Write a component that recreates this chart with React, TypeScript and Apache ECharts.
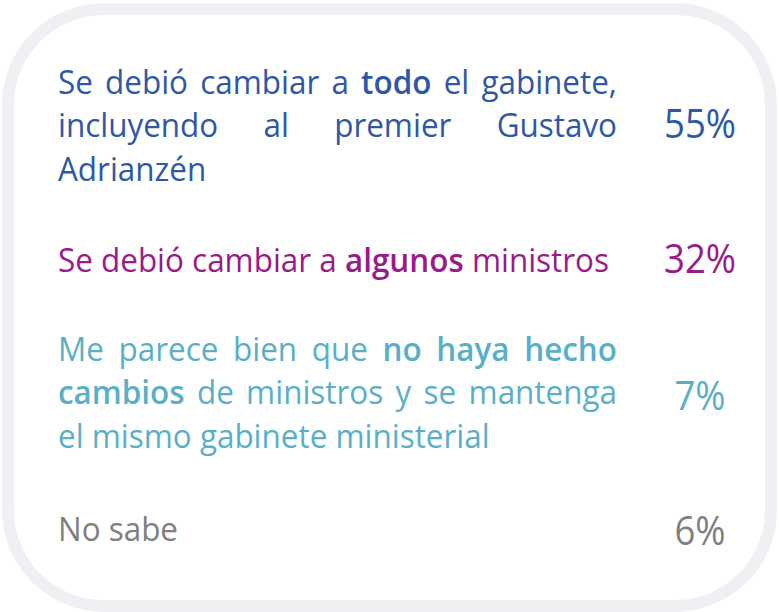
import React, { useEffect, useRef } from "react";
import * as echarts from "echarts";

// ---- data ----
const values = [55, 32, 7, 6];
const colors = ["#2E58A6", "#9B1A89", "#5AAFC8", "#7F7F7F"];
// each paragraph: lines; each line: words [text, bold]; last line of paragraph is not justified
const paragraph1 = [
  [["Se", 0], ["debió", 0], ["cambiar", 0], ["a", 0], ["todo", 1], ["el", 0], ["gabinete,", 0]],
  [["incluyendo", 0], ["al", 0], ["premier", 0], ["Gustavo", 0]],
  [["Adrianzén", 0]],
];
const paragraph2 = [
  [["Se", 0], ["debió", 0], ["cambiar", 0], ["a", 0], ["algunos", 1], ["ministros", 0]],
];
const paragraph3 = [
  [["Me", 0], ["parece", 0], ["bien", 0], ["que", 0], ["no", 1], ["haya", 1], ["hecho", 1]],
  [["cambios", 1], ["de", 0], ["ministros", 0], ["y", 0], ["se", 0], ["mantenga", 0]],
  [["el", 0], ["mismo", 0], ["gabinete", 0], ["ministerial", 0]],
];
const paragraph4 = [[["No", 0], ["sabe", 0]]];
const paragraphs = [paragraph1, paragraph2, paragraph3, paragraph4];
const justified = [true, false, true, false];

// ---- layout ----
const FONT = '"Open Sans", sans-serif';
const TEXT_SIZE = 32;
const PCT_SIZE = 40;
const BOLD = "600";
const TEXT_LEFT = 58;
const TEXT_RIGHT = 617;
const LINE_GAP = 43.5;
const firstLineY = [81, 259, 348, 528];
const pctY = [122, 257, 394, 529];
const PCT_X = 700;

export default function App() {
  const ref = useRef<HTMLDivElement>(null);
  useEffect(() => {
    document.body.style.margin = "0";
    const canvas = document.createElement("canvas");
    const ctx = canvas.getContext("2d")!;
    const measure = (t: string, size: number, bold: boolean) => {
      ctx.font = `${bold ? BOLD : "normal"} ${size}px ${FONT}`;
      return ctx.measureText(t).width;
    };
    // horizontal compression to mimic a narrow font
    const refW =
      measure("Se debió cambiar a ", TEXT_SIZE, false) +
      measure("algunos", TEXT_SIZE, true) +
      measure(" ministros", TEXT_SIZE, false);
    const sx = 551 / refW;
    const pctSx = 72 / measure("55%", PCT_SIZE, false);

    const elements: any[] = [
      {
        type: "rect",
        shape: { x: 8, y: 9, width: 763, height: 597, r: 96 },
        style: { fill: "#ffffff", stroke: "#EEF0F4", lineWidth: 12 },
      },
    ];

    paragraphs.forEach((para, pi) => {
      const color = colors[pi];
      para.forEach((line: any[], li) => {
        const y = firstLineY[pi] + li * LINE_GAP;
        const widths = line.map(([t, b]) => measure(t, TEXT_SIZE, !!b) * sx);
        const total = widths.reduce((a, b) => a + b, 0);
        const isLast = li === para.length - 1;
        let gap = measure(" ", TEXT_SIZE, false) * sx;
        if (justified[pi] && !isLast && line.length > 1) {
          gap = (TEXT_RIGHT - TEXT_LEFT - total) / (line.length - 1);
        }
        let x = TEXT_LEFT;
        line.forEach(([t, b], wi) => {
          elements.push({
            type: "text",
            x,
            y,
            scaleX: sx,
            style: {
              text: t,
              fill: color,
              font: `${b ? BOLD : "normal"} ${TEXT_SIZE}px ${FONT}`,
              align: "left",
              verticalAlign: "middle",
              textAlign: "left",
              textVerticalAlign: "middle",
            },
          });
          x += widths[wi] + gap;
        });
      });
      elements.push({
        type: "text",
        x: PCT_X,
        y: pctY[pi],
        scaleX: pctSx,
        style: {
          text: `${values[pi]}%`,
          fill: color,
          font: `normal ${PCT_SIZE}px ${FONT}`,
          align: "center",
          verticalAlign: "middle",
          textAlign: "center",
          textVerticalAlign: "middle",
        },
      });
    });

    const chart = echarts.init(ref.current!, undefined, { renderer: "svg" });
    chart.setOption({
      animation: false,
      backgroundColor: "#ffffff",
      graphic: { elements },
    });
    return () => chart.dispose();
  }, []);
  return <div ref={ref} style={{ width: 779, height: 612 }} />;
}
